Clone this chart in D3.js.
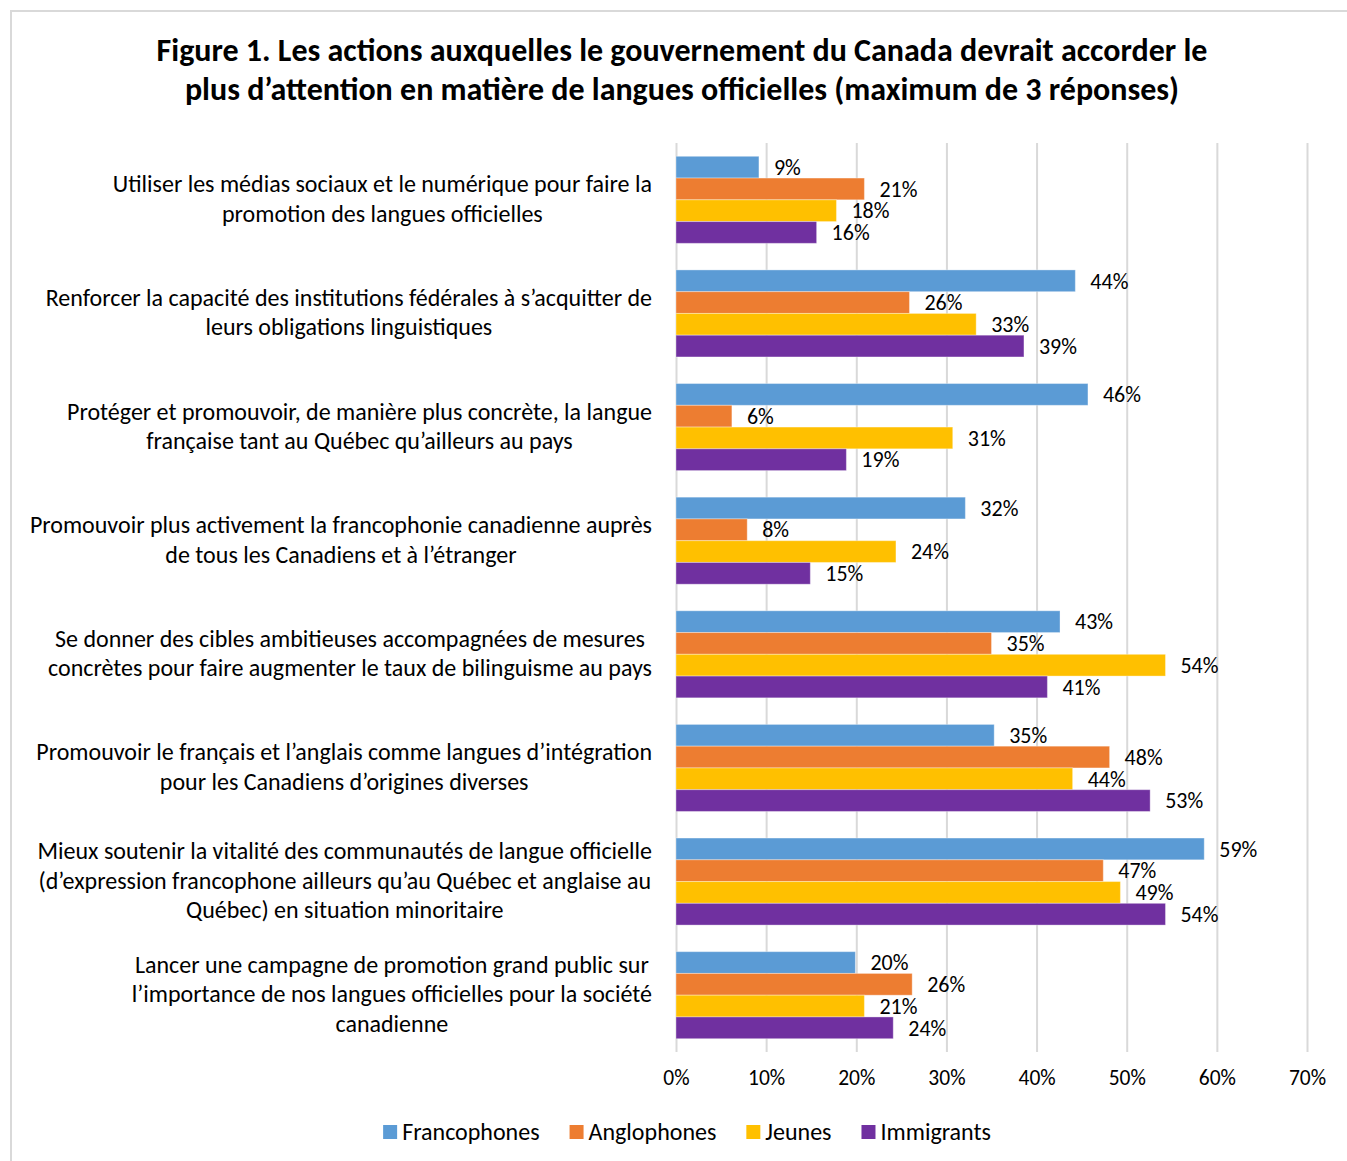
<!DOCTYPE html>
<html>
<head>
<meta charset="utf-8">
<script src="https://cdn.jsdelivr.net/npm/d3@7"></script>
<style>
	body { margin: 0; background: #fff; }
	svg text { font-family: Carlito, Calibri, Lato, sans-serif; fill: #000; }
</style>
</head>
<body>
<div id="chart"></div>
<script>
// categories (each entry is the lines of the label)
const categories = [
	["Utiliser les médias sociaux et le numérique pour faire la", "promotion des langues officielles"],
	["Renforcer la capacité des institutions fédérales à s\u2019acquitter de", "leurs obligations linguistiques"],
	["Protéger et promouvoir, de manière plus concrète, la langue", "française tant au Québec qu\u2019ailleurs au pays"],
	["Promouvoir plus activement la francophonie canadienne auprès", "de tous les Canadiens et à l\u2019étranger"],
	["Se donner des cibles ambitieuses accompagnées de mesures", "concrètes pour faire augmenter le taux de bilinguisme au pays"],
	["Promouvoir le français et l\u2019anglais comme langues d\u2019intégration", "pour les Canadiens d\u2019origines diverses"],
	["Mieux soutenir la vitalité des communautés de langue officielle", "(d\u2019expression francophone ailleurs qu\u2019au Québec et anglaise au", "Québec) en situation minoritaire"],
	["Lancer une campagne de promotion grand public sur", "l\u2019importance de nos langues officielles pour la société", "canadienne"]
];

const seriesNames = ["Francophones", "Anglophones", "Jeunes", "Immigrants"];
const seriesColors = ["#5b9bd5", "#ed7d31", "#ffc000", "#7030a0"];

// percent values, one array per series, in category order
const francophones = [9.2, 44.3, 45.7, 32.1, 42.6, 35.3, 58.6, 19.9];
const anglophones  = [20.9, 25.9, 6.2, 7.9, 35.0, 48.1, 47.4, 26.2];
const jeunes       = [17.8, 33.3, 30.7, 24.4, 54.3, 44.0, 49.3, 20.9];
const immigrants   = [15.6, 38.6, 18.9, 14.9, 41.2, 52.6, 54.3, 24.1];

const xTicks = [0, 10, 20, 30, 40, 50, 60, 70];

const titleLines = [
	"Figure 1. Les actions auxquelles le gouvernement du Canada devrait accorder le",
	"plus d\u2019attention en matière de langues officielles (maximum de 3 réponses)"
];

const seriesValues = [francophones, anglophones, jeunes, immigrants];

const W = 1347, H = 1161;
const margin = {top: 143, left: 676, right: 40, bottom: 109};

const svg = d3.select("#chart").append("svg")
	.attr("width", W)
	.attr("height", H);

// outer frame
svg.append("rect")
	.attr("x", 11).attr("y", 11)
	.attr("width", W).attr("height", H)
	.attr("fill", "#fff")
	.attr("stroke", "#d9d9d9")
	.attr("stroke-width", 2);

// title
svg.append("text")
	.attr("x", 682)
	.attr("text-anchor", "middle")
	.style("font-weight", "bold")
	.style("font-size", "32px")
	.selectAll("tspan")
	.data(titleLines)
	.enter()
	.append("tspan")
	.attr("x", 682)
	.attr("y", (d, i) => 61 + i * 39)
	.text(d => d);

const x = d3.scaleLinear()
	.domain([0, 70])
	.range([margin.left, 1307]);

const y = d3.scaleBand()
	.domain(d3.range(categories.length))
	.range([margin.top, 1052])
	.paddingInner(0.234)
	.paddingOuter(0.117);

const inner = d3.scaleBand()
	.domain(d3.range(seriesNames.length))
	.range([0, y.bandwidth()]);

// grid + axis
const xAxis = d3.axisBottom(x)
	.tickValues(xTicks)
	.tickFormat(d => d + "%")
	.tickSizeInner(-(1052 - margin.top))
	.tickSizeOuter(0)
	.tickPadding(18);

const gx = svg.append("g")
	.attr("class", "xaxis")
	.attr("transform", "translate(0,1052)")
	.call(xAxis);

gx.select(".domain").remove();
gx.selectAll(".tick line")
	.attr("stroke", "#d9d9d9")
	.attr("stroke-width", 2);
gx.selectAll(".tick text")
	.style("font-size", "21.5px")
	.attr("fill", "#000");

// bars
const groups = svg.append("g")
	.selectAll("g")
	.data(categories)
	.enter()
	.append("g")
	.attr("transform", (d, i) => `translate(0,${y(i)})`);

groups.each(function (cat, ci) {
	const g = d3.select(this);
	const rows = seriesValues.map((vals, si) => ({si, v: vals[ci]}));

	g.selectAll("rect")
		.data(rows)
		.enter()
		.append("rect")
		.attr("x", x(0))
		.attr("y", d => inner(d.si))
		.attr("width", d => x(d.v) - x(0))
		.attr("height", inner.bandwidth())
		.attr("fill", d => seriesColors[d.si])
		.attr("stroke", "rgba(255,255,255,0.35)")
		.attr("stroke-width", 1);

	g.selectAll("text.val")
		.data(rows)
		.enter()
		.append("text")
		.attr("class", "val")
		.attr("x", d => x(d.v) + 15)
		.attr("y", d => inner(d.si) + inner.bandwidth() / 2)
		.attr("dy", "0.35em")
		.style("font-size", "22px")
		.text(d => Math.round(d.v) + "%");
});

// category labels: lines centred on each other, block right-aligned at 652
const lineH = 29.5;
categories.forEach((lines, ci) => {
	const t = svg.append("text")
		.attr("text-anchor", "middle")
		.style("font-size", "24px");
	const cy = y(ci) + y.bandwidth() / 2;
	const y0 = cy - (lines.length - 1) * lineH / 2;
	const spans = t.selectAll("tspan")
		.data(lines)
		.enter()
		.append("tspan")
		.attr("y", (d, i) => y0 + i * lineH)
		.attr("dy", "0.3em")
		.text(d => d);
	let maxW = 0;
	spans.each(function () { maxW = Math.max(maxW, this.getComputedTextLength()); });
	spans.attr("x", 652 - maxW / 2);
});

// legend
const legend = svg.append("g");
let lx = 0;
seriesNames.forEach((name, i) => {
	const item = legend.append("g").attr("transform", `translate(${lx},0)`);
	item.append("rect")
		.attr("x", 0).attr("y", -7)
		.attr("width", 14).attr("height", 14)
		.attr("fill", seriesColors[i]);
	const txt = item.append("text")
		.attr("x", 19)
		.attr("dy", "0.35em")
		.style("font-size", "24px")
		.text(name);
	lx += 19 + txt.node().getComputedTextLength() + 30;
});
lx -= 30;
legend.attr("transform", `translate(${687 - lx / 2},1132)`);
</script>
</body>
</html>
